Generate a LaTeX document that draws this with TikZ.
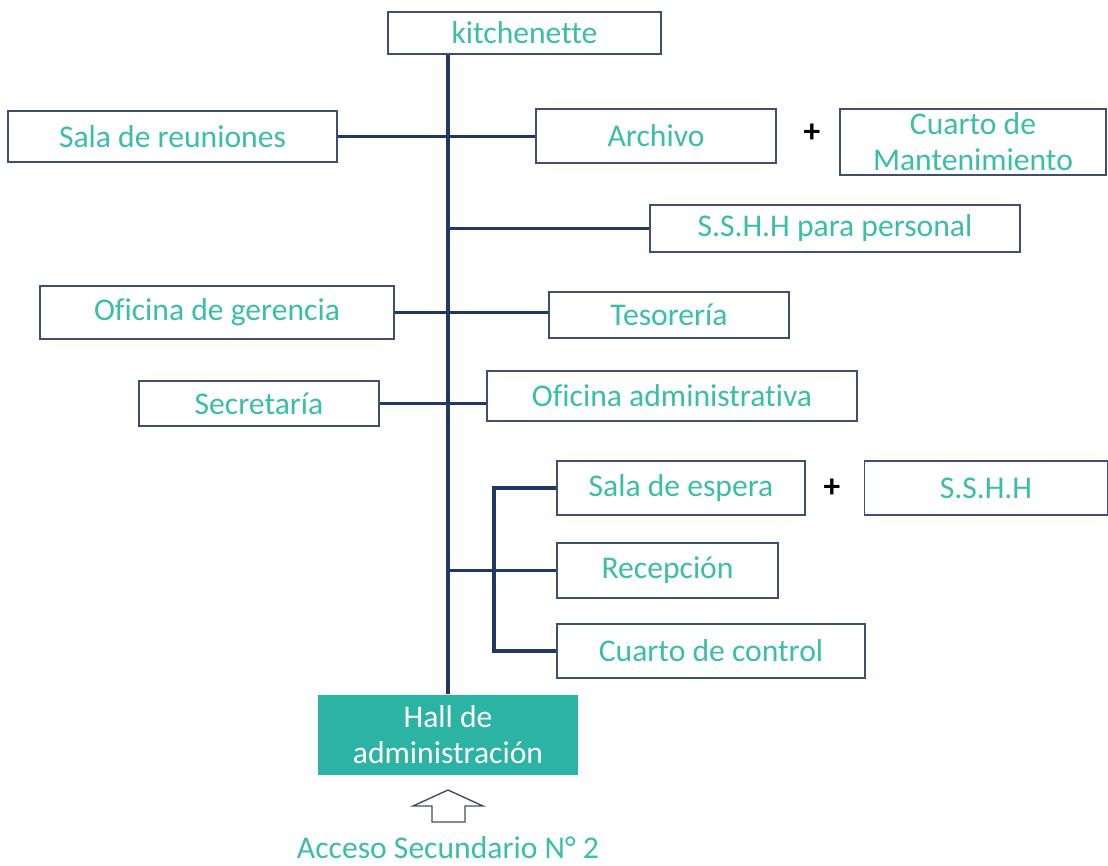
\documentclass[tikz,border=0pt]{standalone}
\usepackage{fontspec}
\setmainfont{Carlito}[Ligatures=CommonOff]
\usetikzlibrary{positioning}
\definecolor{roomtext}{RGB}{59,190,168}
\definecolor{hallfill}{RGB}{43,179,164}
\definecolor{linknavy}{RGB}{31,56,100}
\definecolor{boxedge}{RGB}{63,79,111}

\begin{document}
\begin{tikzpicture}[
        x=0.02cm, y=-0.02cm,
        room/.style={rectangle, draw=boxedge, line width=0.8pt, fill=white, align=center, inner sep=0pt, font=\fontsize{18}{20.5}\selectfont, text=roomtext},
        hall_box/.style={room, draw=none, fill=hallfill, text=white},
        link/.style={draw=linknavy, line width=2pt},
        plus_sign/.style={font=\fontsize{19}{20}\selectfont\bfseries, text=black}
    ]
        \useasboundingbox (0,0) rectangle (1108,865);

        % Rooms
        \node[room, minimum width=5.46cm, minimum height=0.84cm] (kitchen) at (524.5,33) {kitchenette};
        \node[room, minimum width=6.58cm, minimum height=1.02cm] (reuniones) at (172.5,136.5) {Sala de reuniones};
        \node[room, minimum width=4.8cm, minimum height=1.08cm] (archivo) at (656,136) {Archivo};
        \node[plus_sign] (plus1) at (812,133) {+};
        \node[room, minimum width=5.32cm, minimum height=1.32cm] (mant) at (973,142) {Cuarto de\\Mantenimiento};
        \node[room, minimum width=7.4cm, minimum height=0.94cm] (sshhp) at (835,228.5) {S.S.H.H para personal};
        \node[room, minimum width=7.08cm, minimum height=1.06cm] (gerencia) at (217,312.5) {Oficina de gerencia};
        \node[room, minimum width=4.8cm, minimum height=0.92cm] (tesoreria) at (669,315) {Tesorería};
        \node[room, minimum width=4.8cm, minimum height=0.9cm] (secretaria) at (259,403.5) {Secretaría};
        \node[room, minimum width=7.4cm, minimum height=1.0cm] (admin) at (672,396) {Oficina administrativa};
        \node[room, minimum width=4.96cm, minimum height=1.08cm] (espera) at (681,488) {Sala de espera};
        \node[plus_sign] (plus2) at (832,488) {+};
        \node[room, minimum width=4.86cm, minimum height=1.08cm] (sshh) at (986,488) {S.S.H.H};
        \node[room, minimum width=4.42cm, minimum height=1.1cm] (recepcion) at (667.5,570.5) {Recepción};
        \node[room, minimum width=6.16cm, minimum height=1.08cm] (control) at (711,651) {Cuarto de control};
        \node[hall_box, minimum width=5.2cm, minimum height=1.6cm] (hall) at (448,735) {Hall de\\administración};

        % Entrance
        \coordinate (tip) at (448,790);
        \draw[draw=boxedge, line width=0.8pt, fill=white] (tip) -- (483,806) -- (465,806) -- (465,822)
            -- (432,822) -- (432,806) -- (413,806) -- cycle;
        \node[font=\fontsize{18}{20.5}\selectfont, text=roomtext] (acceso) at (448,848) {Acceso Secundario N° 2};

        % Connectors
        \draw[link] (hall.north) -- (hall.north |- kitchen.south);
        \draw[link] (reuniones.east) -- (reuniones.east -| archivo.west);
        \draw[link] (sshhp.west) -- (sshhp.west -| hall.north);
        \draw[link] (gerencia.east) -- (gerencia.east -| tesoreria.west);
        \draw[link] (secretaria.east) -- (secretaria.east -| admin.west);
        \draw[link] (recepcion.west) -- (recepcion.west -| hall.north);
        \coordinate (fork) at (494,570);
        \draw[link] (espera.west) -| (fork) |- (control.west);

    \end{tikzpicture}
\end{document}
